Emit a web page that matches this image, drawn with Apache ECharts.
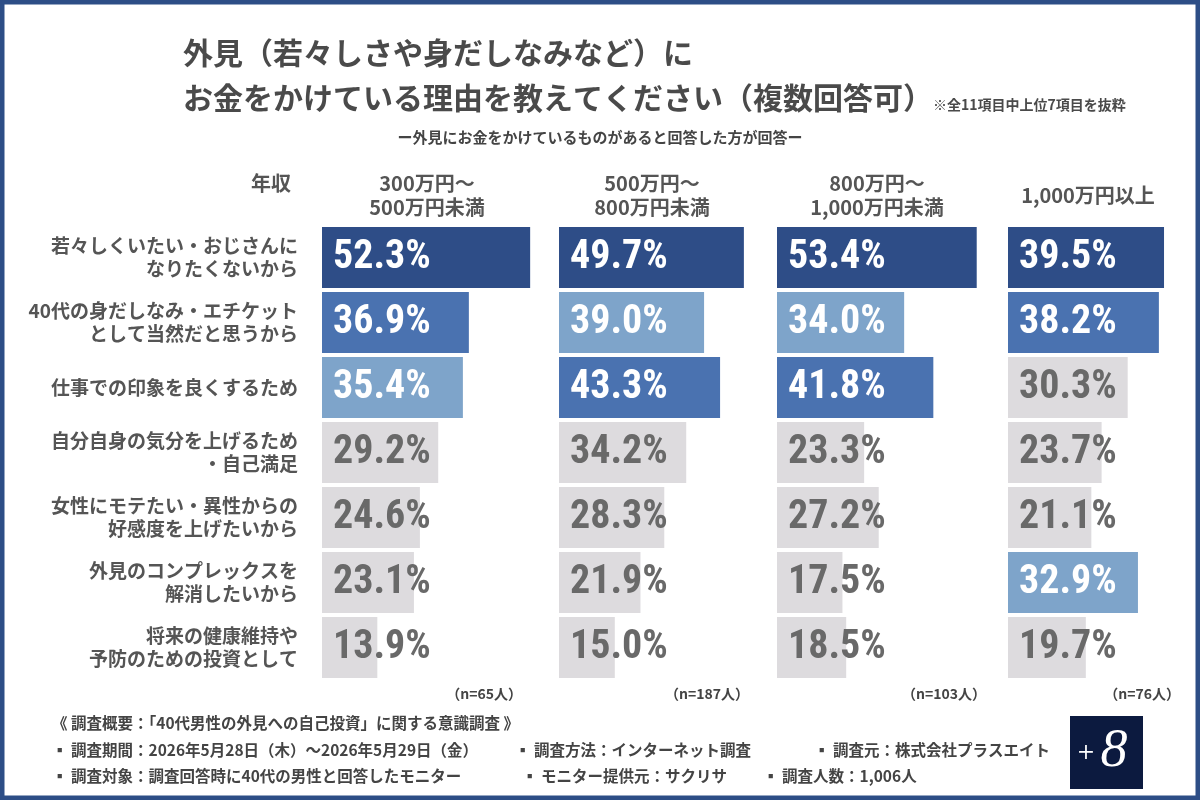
<!DOCTYPE html>
<html>
<head>
<meta charset="utf-8">
<script src="https://cdn.jsdelivr.net/npm/echarts@6/dist/echarts.min.js"></script>
<style>
  html, body { margin: 0; padding: 0; background: #fff; }
  #chart { width: 1200px; height: 800px; }
</style>
</head>
<body>
<div id="chart"></div>
<script>
const reasons = [
  '若々しくいたい・おじさんに\nなりたくないから',
  '40代の身だしなみ・エチケット\nとして当然だと思うから',
  '仕事での印象を良くするため',
  '自分自身の気分を上げるため\n・自己満足',
  '女性にモテたい・異性からの\n好感度を上げたいから',
  '外見のコンプレックスを\n解消したいから',
  '将来の健康維持や\n予防のための投資として'
]

const incomeGroups = [
  '300万円～\n500万円未満',
  '500万円～\n800万円未満',
  '800万円～\n1,000万円未満',
  '1,000万円以上'
]

const sampleSizes = [65, 187, 103, 76]

const income300 = [52.3, 36.9, 35.4, 29.2, 24.6, 23.1, 13.9]
const income500 = [49.7, 39.0, 43.3, 34.2, 28.3, 21.9, 15.0]
const income800 = [53.4, 34.0, 41.8, 23.3, 27.2, 17.5, 18.5]
const income1000 = [39.5, 38.2, 30.3, 23.7, 21.1, 32.9, 19.7]

const groupValues = [income300, income500, income800, income1000]

// layout per panel (the bars were drawn at slightly different scales)
const panelLeft = [322, 559, 777, 1008]
const pxPerPct = [3.98, 3.72, 3.74, 3.95]
const headerX = [427, 652, 877, 1088]
const nRight = [522, 749, 986, 1180]

const JP = "'Noto Sans CJK JP', 'Noto Sans', sans-serif"
const NUM = "'Roboto Condensed', Roboto, sans-serif"
const rankColors = ['#2e4d87', '#4a72b0', '#7ea4ca']
const GRAY = '#dddbde'

function itemsFor(values) {
  const order = values.map((v, i) => i).sort((a, b) => values[b] - values[a])
  return values.map((v, i) => {
    const rank = order.indexOf(i)
    const top = rank < 3
    return {
      value: v,
      itemStyle: { color: top ? rankColors[rank] : GRAY },
      label: { color: top ? '#ffffff' : '#696969' }
    }
  })
}

const grids = groupValues.map((v, i) => ({
  left: panelLeft[i],
  top: 225,
  width: Math.max(...v) * pxPerPct[i],
  height: 455
}))

const xAxes = groupValues.map((v, i) => ({
  type: 'value', gridIndex: i, min: 0, max: Math.max(...v), show: false
}))

const yAxes = groupValues.map((v, i) => ({
  type: 'category',
  gridIndex: i,
  data: reasons,
  inverse: true,
  show: i === 0,
  axisLine: { show: false },
  axisTick: { show: false },
  axisLabel: {
    margin: 24,
    fontSize: 19,
    lineHeight: 23,
    fontWeight: 'bold',
    color: '#555555',
    fontFamily: JP
  }
}))

const series = groupValues.map((v, i) => ({
  type: 'bar',
  xAxisIndex: i,
  yAxisIndex: i,
  barWidth: 61,
  data: itemsFor(v),
  label: {
    show: true,
    position: 'insideLeft',
    distance: 11,
    fontSize: 40,
    fontWeight: 'bold',
    fontFamily: NUM,
    formatter: p => p.value.toFixed(1) + '%'
  }
}))

function txt(text, x, y, size, opts) {
  return {
    type: 'text',
    x: x,
    y: y,
    style: Object.assign({
      text: text,
      fill: '#4a4a4a',
      fontSize: size,
      fontWeight: 'bold',
      fontFamily: JP,
      align: 'left',
      verticalAlign: 'middle'
    }, opts || {})
  }
}

const graphics = [
  { type: 'rect', shape: { x: 0, y: 0, width: 1200, height: 800 },
    style: { fill: 'none', stroke: '#2d4e86', lineWidth: 9 } },
  txt('外見（若々しさや身だしなみなど）に', 183, 53, 30),
  txt('お金をかけている理由を教えてください（複数回答可）', 183, 98, 30),
  txt('※全11項目中上位7項目を抜粋', 933, 105, 14),
  txt('ー外見にお金をかけているものがあると回答した方が回答ー', 600, 137, 15,
    { align: 'center', fill: '#444444' }),
  txt('年収', 291, 183, 20, { align: 'right', fill: '#555555' })
]

incomeGroups.forEach((g, i) => {
  graphics.push(txt(g, headerX[i], 195, 20,
    { align: 'center', lineHeight: 24, fill: '#555555' }))
  graphics.push(txt('（n=' + sampleSizes[i] + '人）', nRight[i], 694, 14,
    { align: 'right', fill: '#444444' }))
})

const footer = [
  ['《 調査概要：「40代男性の外見への自己投資」に関する意識調査 》', 52, 723],
  ['▪ 調査期間：2026年5月28日（木）～2026年5月29日（金）', 52, 750],
  ['▪ 調査方法：インターネット調査', 515, 750],
  ['▪ 調査元：株式会社プラスエイト', 814, 750],
  ['▪ 調査対象：調査回答時に40代の男性と回答したモニター', 52, 776],
  ['▪ モニター提供元：サクリサ', 522, 776],
  ['▪ 調査人数：1,006人', 763, 776]
]
footer.forEach(f => graphics.push(txt(f[0], f[1], f[2], 15.5, { fill: '#444444' })))

graphics.push(
  { type: 'rect', shape: { x: 1070, y: 716, width: 73, height: 73 },
    style: { fill: '#0c1a3f' } },
  txt('+', 1086, 753, 22, { align: 'center', fill: '#ffffff', fontWeight: 'normal', fontFamily: "'DejaVu Serif', serif" }),
  txt('8', 1114, 752, 54, { align: 'center', fill: '#ffffff', fontWeight: 'normal', fontStyle: 'italic', fontFamily: "'Liberation Serif', serif" })
)

const chart = echarts.init(document.getElementById('chart'))
chart.setOption({
  animation: false,
  backgroundColor: '#ffffff',
  grid: grids,
  xAxis: xAxes,
  yAxis: yAxes,
  series: series,
  graphic: graphics
})
</script>
</body>
</html>
